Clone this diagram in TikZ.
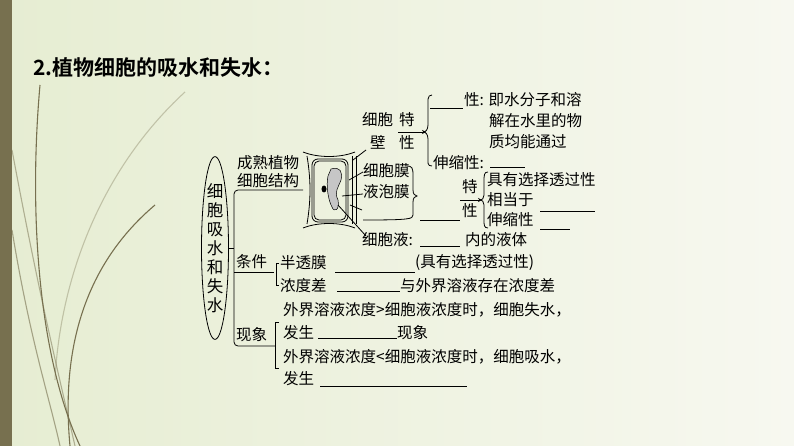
\documentclass[tikz,border=0pt]{standalone}
\usepackage{fontspec}
\setmainfont{Noto Sans CJK SC}
\newfontfamily\tb{Noto Sans CJK SC Bold}
\usetikzlibrary{decorations.pathreplacing,shapes.geometric}
\definecolor{bgA}{HTML}{E6EDD2}
\definecolor{bgB}{HTML}{F7F8F0}
\definecolor{barc}{HTML}{77704F}
\tikzset{
 t/.style={anchor=west,inner sep=0pt,font=\fontsize{15.5}{16}\selectfont},
 blank/.style={line width=0.7pt},
 ln/.style={line width=0.8pt},
 deco/.style={line width=1.1pt,color=barc},
}
\begin{document}
\begin{tikzpicture}[x=1pt,y=-1pt]
\useasboundingbox (0,0) rectangle (794,446);
\shade[left color=bgA,right color=bgB] (0,0) rectangle (794,446);
\fill[barc] (0,0) rectangle (12,446);
% decorative curves
\draw[deco] (40,85) .. controls (28,220) and (40,360) .. (80,446);
\draw[deco,opacity=.5] (12,150) .. controls (40,300) and (60,380) .. (75,446);
\draw[deco] (155,205) .. controls (90,260) and (60,340) .. (70,446);
\draw[deco,opacity=.35] (185,92) .. controls (100,170) and (60,280) .. (55,380);
\draw[deco,opacity=.6] (12,230) .. controls (30,340) and (50,400) .. (60,446);
% title
\node[anchor=west,inner sep=0pt,font=\tb\fontsize{21}{22}\selectfont] (title) at (33,68) {2.植物细胞的吸水和失水：};
% ellipse
\node[draw,ellipse,minimum width=27,minimum height=170,inner sep=0pt,line width=0.8pt,
 font=\fontsize{16.5}{19}\selectfont,align=center] (el) at (215,248) {细\\胞\\吸\\水\\和\\失\\水};
\coordinate (m1) at (234,248);
\draw[ln] (el.east) -- (m1);
\draw[ln,rounded corners=4] (303,190) -- (234,190) -- (234,346) -- (275,346);
\draw[ln] (234,272) -- (274,272);
\node[t] (n1) at (237,163) {成熟植物};
\node[t] (n2) at (237,181) {细胞结构};
\node[t] (tj) at (236,262) {条件};
\node[t] (xx) at (236,335) {现象};
% conditions
\draw[ln] (279,263) -- (276,263) -- (276,285) -- (279,285);
\node[t] (bt) at (280,263) {半透膜};
\draw[blank] (335,272) -- (415,272);
\node[t] (bt2) at (415,263) {(具有选择透过性)};
\node[t] (nd) at (280,286) {浓度差};
\draw[blank] (337,291) -- (400,291);
\node[t] (nd2) at (400,286) {与外界溶液存在浓度差};
% phenomena
\draw[ln] (279,322) -- (275,322) -- (275,368) -- (279,368);
\node[t] (p1) at (283,310) {外界溶液浓度>细胞液浓度时，细胞失水，};
\node[t] (p2) at (283,333) {发生};
\draw[blank] (318,338) -- (397,338);
\node[t] (p3) at (397,333) {现象};
\node[t] (p4) at (283,357) {外界溶液浓度<细胞液浓度时，细胞吸水，};
\node[t] (p5) at (283,379) {发生};
\draw[blank] (320,386) -- (467,386);
% cell drawing
\draw[ln] (303,152) .. controls (318,158) and (340,158) .. (355,152);
\draw[ln] (303,228) .. controls (318,222) and (340,222) .. (355,228);
\draw[ln] (307,156) .. controls (311,180) and (311,200) .. (307,224);
\draw[ln] (352,156) -- (352,224);
\draw[ln] (356,156) -- (356,224);
\draw[ln,rounded corners=6] (312,159) rectangle (348,222);
\draw[ln,rounded corners=5] (314,161) rectangle (346,220);
\fill[gray!45,draw=black,line width=0.5pt] (331,169) .. controls (340,166) and (343,172) .. (341,180)
 .. controls (338,188) and (334,192) .. (338,200) .. controls (340,210) and (334,213) .. (332,207)
 .. controls (328,200) and (326,185) .. (328,176) -- cycle;
\fill (324,189) ellipse (2.5 and 3.5);
% wall
\node[t] (cw1) at (362,120) {细胞};
\node[t] (cw2) at (370,142) {壁};
\draw[ln] (366,150) -- (353,160);
\node[t] (tx1) at (399,120) {特};
\node[t] (tx2) at (399,143) {性};
\draw[ln,-stealth] (398,132) -- (426,132);
\draw[ln] (432,95) .. controls (427,95) and (428,100) .. (428,110) -- (428,125) .. controls (428,130) and (425,132) .. (424,132)
 .. controls (425,132) and (428,134) .. (428,139) -- (428,155) .. controls (428,163) and (427,166) .. (432,166);
\draw[blank] (430,108) -- (463,108);
\node[t] (w1) at (464,100) {性: 即水分子和溶};
\node[t] (w2) at (489,121) {解在水里的物};
\node[t] (w3) at (489,142) {质均能通过};
\node[t] (w4) at (433,163) {伸缩性:};
\draw[blank] (490,167) -- (525,167);
% membranes
\node[t] (mb1) at (363,171) {细胞膜};
\node[t] (mb2) at (363,192) {液泡膜};
\draw[ln] (363,172) -- (349,180);
\draw[ln] (363,194) -- (342,196);
\draw[ln] (350,205) -- (362,210);
\draw[ln] (407,166) .. controls (412,166) and (413,168) .. (413,175) -- (413,190) .. controls (413,194) and (415,196) .. (417,196)
 .. controls (415,196) and (413,198) .. (413,202) -- (413,215) .. controls (413,219) and (410,220) .. (363,220);
\draw[blank] (420,220) -- (460,220);
\node[t] (tz1) at (462,187) {特};
\node[t] (tz2) at (462,211) {性};
\draw[ln,-stealth] (460,200) -- (482,200);
\draw[ln] (488,172) .. controls (484,172) and (484,175) .. (484,182) -- (484,195) .. controls (484,198) and (482,200) .. (481,200)
 .. controls (482,200) and (484,202) .. (484,205) -- (484,220) .. controls (484,225) and (484,228) .. (488,228);
\node[t] (s1) at (487,180) {具有选择透过性};
\node[t] (s2) at (487,200) {相当于};
\draw[blank] (540,211) -- (595,211);
\node[t] (s3) at (487,220) {伸缩性};
\draw[blank] (540,229) -- (570,229);
% cell sap
\draw[ln] (338,205) -- (366,236);
\node[t] (cs) at (362,240) {细胞液:};
\draw[blank] (420,246) -- (460,246);
\node[t] (cs2) at (465,240) {内的液体};
\end{tikzpicture}
\end{document}
